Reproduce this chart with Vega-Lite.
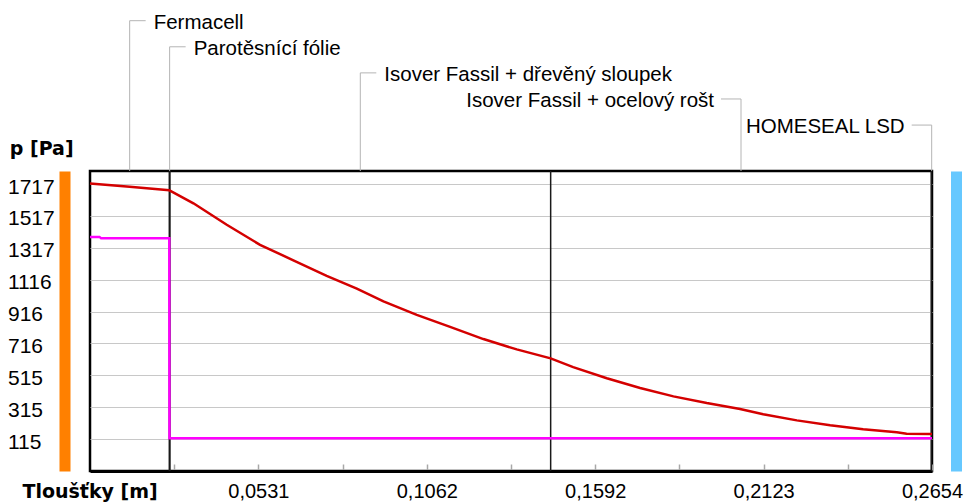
{
  "$schema": "https://vega.github.io/schema/vega-lite/v6.json",
  "width": 842,
  "height": 300,
  "autosize": {"type": "none"},
  "padding": {"left": 90, "top": 171, "right": 34, "bottom": 33},
  "background": "white",
  "config": {
    "view": {"stroke": "#000000", "strokeWidth": 2.5},
    "font": "Liberation Sans"
  },
  "datasets": {
    "red": [
      {"x": 0, "p": 1721}, {"x": 0.0125, "p": 1700}, {"x": 0.025, "p": 1678}, {"x": 0.0252, "p": 1676},
      {"x": 0.0326, "p": 1596}, {"x": 0.0431, "p": 1461}, {"x": 0.0536, "p": 1335}, {"x": 0.0641, "p": 1238},
      {"x": 0.0746, "p": 1140}, {"x": 0.0841, "p": 1060}, {"x": 0.0925, "p": 980}, {"x": 0.103, "p": 895},
      {"x": 0.1135, "p": 820}, {"x": 0.124, "p": 743}, {"x": 0.1345, "p": 678}, {"x": 0.1452, "p": 622},
      {"x": 0.1523, "p": 567}, {"x": 0.1629, "p": 497}, {"x": 0.1734, "p": 436}, {"x": 0.1839, "p": 383},
      {"x": 0.1944, "p": 341}, {"x": 0.2049, "p": 304}, {"x": 0.2122, "p": 270}, {"x": 0.2228, "p": 232},
      {"x": 0.2333, "p": 202}, {"x": 0.2437, "p": 177}, {"x": 0.2543, "p": 157}, {"x": 0.2574, "p": 148},
      {"x": 0.2652, "p": 146}, {"x": 0.2654, "p": 146}
    ],
    "magenta": [
      {"x": 0, "p": 1385}, {"x": 0.003, "p": 1385}, {"x": 0.0035, "p": 1376}, {"x": 0.025, "p": 1376},
      {"x": 0.02505, "p": 119}, {"x": 0.2654, "p": 119}
    ],
    "bounds": [
      {"x": 0.025}, {"x": 0.0252}, {"x": 0.1452}, {"x": 0.2652}
    ],
    "labels": [
      {"name": "Fermacell", "x": 0.0125, "level": 0},
      {"name": "Parotěsnící fólie", "x": 0.0251, "level": 1},
      {"name": "Isover Fassil + dřevěný sloupek", "x": 0.0852, "level": 2},
      {"name": "Isover Fassil + ocelový rošt", "x": 0.2052, "level": 3},
      {"name": "HOMESEAL LSD", "x": 0.2653, "level": 4}
    ]
  },
  "layer": [
    {
      "layer": [
        {
          "data": {"name": "bounds"},
          "mark": {"type": "rule", "color": "#1a1a1a", "strokeWidth": 1.5},
          "encoding": {
            "x": {
              "field": "x", "type": "quantitative",
              "scale": {"domain": [0, 0.2654], "nice": false, "zero": false},
              "axis": {
                "orient": "bottom",
                "values": [0.02654, 0.05308, 0.07962, 0.10616, 0.1327, 0.15924, 0.18578, 0.21232, 0.23886, 0.2654],
                "labelExpr": "round(datum.value / 0.02654) % 2 == 0 ? replace(format(datum.value, '.4f'), '.', ',') : ''",
                "grid": false,
                "domainColor": "#000000", "domainWidth": 3,
                "tickColor": "#a8a8a8", "tickSize": -7, "tickWidth": 1.5,
                "labelFont": "Liberation Sans", "labelFontSize": 20, "labelColor": "#000000",
                "labelBaseline": "alphabetic", "labelPadding": 33,
                "labelFlush": false, "labelOverlap": false,
                "title": "Tloušťky [m]",
                "titleFont": "DejaVu Sans", "titleFontWeight": "bold", "titleFontSize": 19, "titleColor": "#000000",
                "titleAlign": "left", "titleBaseline": "alphabetic", "titleAngle": 0,
                "titleX": -68, "titleY": 26
              }
            }
          }
        },
        {
          "data": {"name": "red"},
          "mark": {"type": "line", "color": "#d40000", "strokeWidth": 2.5},
          "encoding": {
            "x": {"field": "x", "type": "quantitative"},
            "y": {
              "field": "p", "type": "quantitative",
              "scale": {"domain": [-86, 1799], "nice": false, "zero": false},
              "axis": {
                "orient": "left", "offset": 25.5,
                "values": [115, 315, 515, 716, 916, 1116, 1317, 1517, 1717],
                "format": "d",
                "ticks": false,
                "domainColor": "#ff8000", "domainWidth": 11,
                "grid": true, "gridColor": "#c8c8c8", "gridWidth": 1.2,
                "labelAlign": "left", "labelPadding": 57, "labelBaseline": "middle", "labelOffset": 3,
                "labelFont": "Liberation Sans", "labelFontSize": 21, "labelColor": "#000000",
                "title": "p [Pa]",
                "titleFont": "DejaVu Sans", "titleFontWeight": "bold", "titleFontSize": 19, "titleColor": "#000000",
                "titleAngle": 0, "titleAlign": "left", "titleBaseline": "alphabetic",
                "titleX": -55.2, "titleY": -17
              }
            }
          }
        },
        {
          "data": {"name": "magenta"},
          "mark": {"type": "line", "color": "#ff00ff", "strokeWidth": 2.5},
          "encoding": {
            "x": {"field": "x", "type": "quantitative"},
            "y": {
              "field": "p", "type": "quantitative",
              "axis": {
                "orient": "right", "offset": 24,
                "ticks": false, "labels": false, "grid": false,
                "domainColor": "#66c8ff", "domainWidth": 11,
                "title": null
              }
            }
          }
        }
      ],
      "resolve": {"axis": {"y": "independent"}}
    },
    {
      "data": {"name": "labels"},
      "encoding": {
        "x": {"field": "x", "type": "quantitative"},
        "y": {
          "field": "level", "type": "quantitative",
          "scale": {"domain": [0, 5.76], "range": [-150.3, 0], "nice": false, "zero": false},
          "axis": null
        }
      },
      "layer": [
        {
          "mark": {"type": "rule", "color": "#b4b4b4", "strokeWidth": 1},
          "encoding": {"y2": {"datum": 5.76}}
        },
        {
          "transform": [{"filter": "datum.level < 3"}],
          "mark": {"type": "rule", "color": "#b4b4b4", "strokeWidth": 1, "x2Offset": 16},
          "encoding": {"x2": {"field": "x"}}
        },
        {
          "transform": [{"filter": "datum.level >= 3"}],
          "mark": {"type": "rule", "color": "#b4b4b4", "strokeWidth": 1, "x2Offset": -20},
          "encoding": {"x2": {"field": "x"}}
        },
        {
          "transform": [{"filter": "datum.level < 3"}],
          "mark": {"type": "text", "align": "left", "baseline": "alphabetic", "dx": 24, "dy": 8, "font": "Liberation Sans", "fontSize": 20.5, "color": "#000000"},
          "encoding": {"text": {"field": "name"}}
        },
        {
          "transform": [{"filter": "datum.level >= 3"}],
          "mark": {"type": "text", "align": "right", "baseline": "alphabetic", "dx": -27, "dy": 8, "font": "Liberation Sans", "fontSize": 20.5, "color": "#000000"},
          "encoding": {"text": {"field": "name"}}
        }
      ]
    }
  ],
  "resolve": {"scale": {"y": "independent"}, "axis": {"y": "independent"}}
}
